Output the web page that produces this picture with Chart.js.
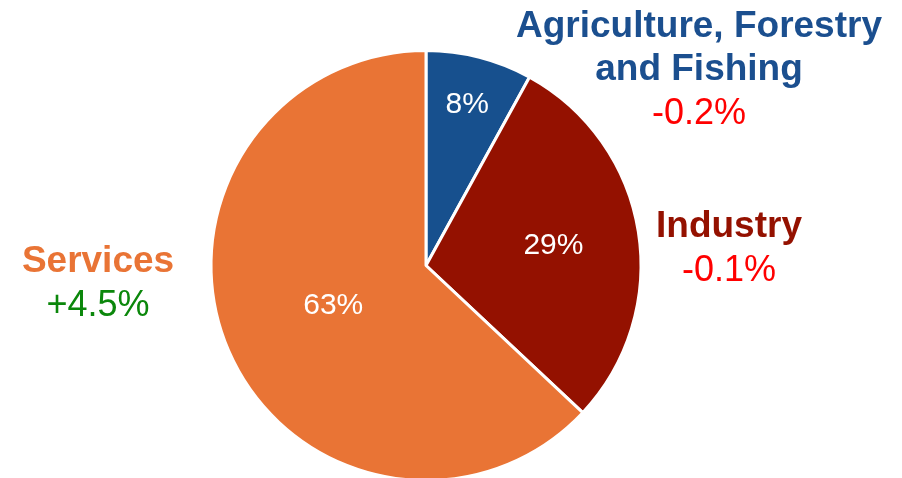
<!DOCTYPE html>
<html>
<head>
<meta charset="utf-8">
<script src="https://cdn.jsdelivr.net/npm/chart.js@4.4.0/dist/chart.umd.min.js"></script>
<style>
  html, body { margin: 0; padding: 0; background: #fff; overflow: hidden; }
  #wrap { width: 902px; height: 492px; position: relative; }
</style>
</head>
<body>
<div id="wrap"><canvas id="pie"></canvas></div>
<script>
// sector shares (%) and change labels
const sectors = ['Agriculture, Forestry and Fishing', 'Industry', 'Services'];
const shares = [8, 29, 63];
const changes = ['-0.2%', '-0.1%', '+4.5%'];
const sliceColors = ['#17508e', '#941100', '#e97435'];
const titleColors = ['#1b4f8f', '#941100', '#e97435'];
const changeColors = ['#ff0000', '#ff0000', '#0b870b'];

// outer label text blocks: title lines, centre x, baseline of first line
const labelBlocks = [
  { lines: ['Agriculture, Forestry', 'and Fishing'], x: 699, y: 37 },
  { lines: ['Industry'], x: 729, y: 237 },
  { lines: ['Services'], x: 98, y: 272 }
];
// radial position of % text inside each slice (fraction of radius)
const insideR = [0.77, 0.6, 0.47];

const labelPlugin = {
  id: 'labels',
  afterDraw(chart) {
    const c = chart.ctx;
    const meta = chart.getDatasetMeta(0);
    c.save();
    c.textAlign = 'center';
    c.textBaseline = 'middle';
    c.fillStyle = '#ffffff';
    c.font = '30px "Liberation Sans", Arial, sans-serif';
    meta.data.forEach((arc, i) => {
      const p = arc.getProps(['x', 'y', 'startAngle', 'endAngle', 'outerRadius'], true);
      const mid = (p.startAngle + p.endAngle) / 2;
      const r = p.outerRadius * insideR[i];
      c.fillText(shares[i] + '%', p.x + Math.cos(mid) * r, p.y + Math.sin(mid) * r);
    });

    c.textBaseline = 'alphabetic';
    labelBlocks.forEach((b, i) => {
      c.font = 'bold 37px "Liberation Sans", Arial, sans-serif';
      c.fillStyle = titleColors[i];
      b.lines.forEach((ln, k) => c.fillText(ln, b.x, b.y + k * 43));
      c.font = '36px "Liberation Sans", Arial, sans-serif';
      c.fillStyle = changeColors[i];
      c.fillText(changes[i], b.x, b.y + b.lines.length * 43 + 1);
    });
    c.restore();
  }
};

new Chart(document.getElementById('pie'), {
  type: 'pie',
  data: {
    labels: sectors,
    datasets: [{
      data: shares,
      backgroundColor: sliceColors,
      borderColor: '#ffffff',
      borderWidth: 3
    }]
  },
  options: {
    responsive: true,
    maintainAspectRatio: false,
    animation: false,
    layout: { padding: { left: 209, right: 259, top: 49, bottom: 10 } },
    plugins: {
      legend: { display: false },
      tooltip: { enabled: false }
    }
  },
  plugins: [labelPlugin]
});
</script>
</body>
</html>
